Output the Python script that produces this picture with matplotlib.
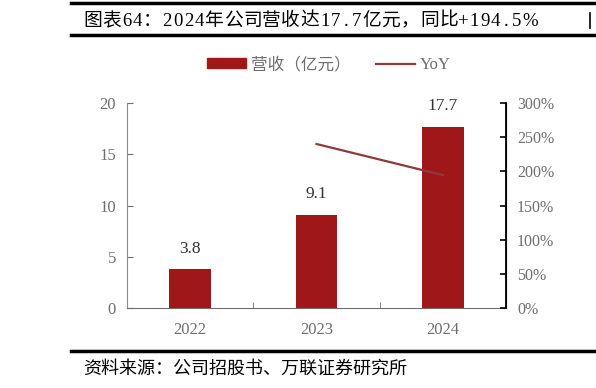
import matplotlib
matplotlib.use("Agg")
import matplotlib.pyplot as plt
from matplotlib.lines import Line2D
from matplotlib.patches import Patch

years = ["2022", "2023", "2024"]
revenue = [3.8, 9.1, 17.7]
yoy_years = ["2023", "2024"]
yoy = [240.0, 194.5]
left_ticks = [0, 5, 10, 15, 20]
right_ticks = [0, 50, 100, 150, 200, 250, 300]
title = "图表64：2024年公司营收达17.7亿元，同比+194.5%"
source = "资料来源：公司招股书、万联证券研究所"

SERIF = ["Liberation Serif", "Noto Sans CJK SC", "DejaVu Sans"]
plt.rcParams["font.family"] = SERIF

BAR = "#A0171A"
LINE = "#8E3A3A"
GRAY = "#6e6e6e"
W, H = 596, 388

fig = plt.figure(figsize=(5.96, 3.88), dpi=100)
ax = fig.add_axes([127/W, 80/H, 379/W, 205/H])
ax2 = ax.twinx()

x = list(range(len(years)))
ax.bar(x, revenue, width=0.33, color=BAR, zorder=2)
for xi, v in zip(x, revenue):
    ax.annotate(f"{v:.1f}", (xi, v), xytext=(0, 9), textcoords="offset points",
                ha="center", va="bottom", fontsize=12.5, color="#333333")

yx = [years.index(y) for y in yoy_years]
ax2.plot(yx, yoy, color=LINE, lw=1.6, zorder=3)

ax.set_xlim(-0.5, 2.5)
ax.set_ylim(0, 20)
ax2.set_ylim(0, 300)
ax.set_yticks(left_ticks)
ax.set_yticklabels([str(t) for t in left_ticks], fontsize=12, color=GRAY)
ax2.set_yticks(right_ticks)
ax2.set_yticklabels([f"{t}%" for t in right_ticks], fontsize=11.5, color=GRAY)
ax.set_xticks(x)
ax.set_xticklabels(years, fontsize=12, color=GRAY)
ax.set_xticks([0.5, 1.5], minor=True)
ax.tick_params(axis="x", which="major", length=0, pad=10)
ax.tick_params(axis="x", which="minor", direction="in", length=4, color=GRAY)
ax.tick_params(axis="y", direction="in", length=4, color=GRAY, pad=8)
ax2.tick_params(axis="y", direction="in", length=4, color="black", width=1.2, pad=8)

for a in (ax, ax2):
    a.spines["top"].set_visible(False)
ax.spines["left"].set_color("#8c8c8c")
ax.spines["bottom"].set_color(GRAY)
ax2.spines["left"].set_visible(False)
ax2.spines["bottom"].set_visible(False)
ax2.spines["right"].set_color("black")
ax2.spines["right"].set_linewidth(1.3)

handles = [Patch(color=BAR, label="营收（亿元）"),
           Line2D([0], [0], color=LINE, lw=1.6, label="YoY")]
leg = fig.legend(handles=handles, loc="center", bbox_to_anchor=(329/W, 1 - 65/H),
                 ncol=2, frameon=False, fontsize=12, handlelength=2.35, handleheight=0.55,
                 columnspacing=1.5, handletextpad=0.3)
for t in leg.get_texts():
    t.set_color(GRAY)

# header / footer rules
for yy in (3, 35, 351):
    fig.add_artist(Line2D([71/W, 1], [1 - yy/H]*2, color="black", lw=2.5))
fig.add_artist(Line2D([590/W, 590/W], [1 - 13/H, 1 - 28/H], color="black", lw=1.2))


def cell_text(s, x0, x1, y_base, **kw):
    # half-width / full-width cell layout, like a CJK typesetting font
    def u(ch):
        if ch == "%":
            return 1.7
        return 1.1 if ord(ch) < 128 else 2.0
    units = [u(ch) for ch in s]
    unit = (x1 - x0) / sum(units)
    xx = x0
    for ch, uu in zip(s, units):
        cw = uu * unit
        fig.text((xx + cw / 2) / W, 1 - y_base / H, ch, ha="center", va="baseline", **kw)
        xx += cw


cell_text(title, 83, 538, 26, fontsize=13.5, color="black")
fig.text(83/W, 1 - 374/H, source, fontsize=13, ha="left", va="baseline",
         style="italic", color="black")

fig.savefig("out.png", dpi=100)
